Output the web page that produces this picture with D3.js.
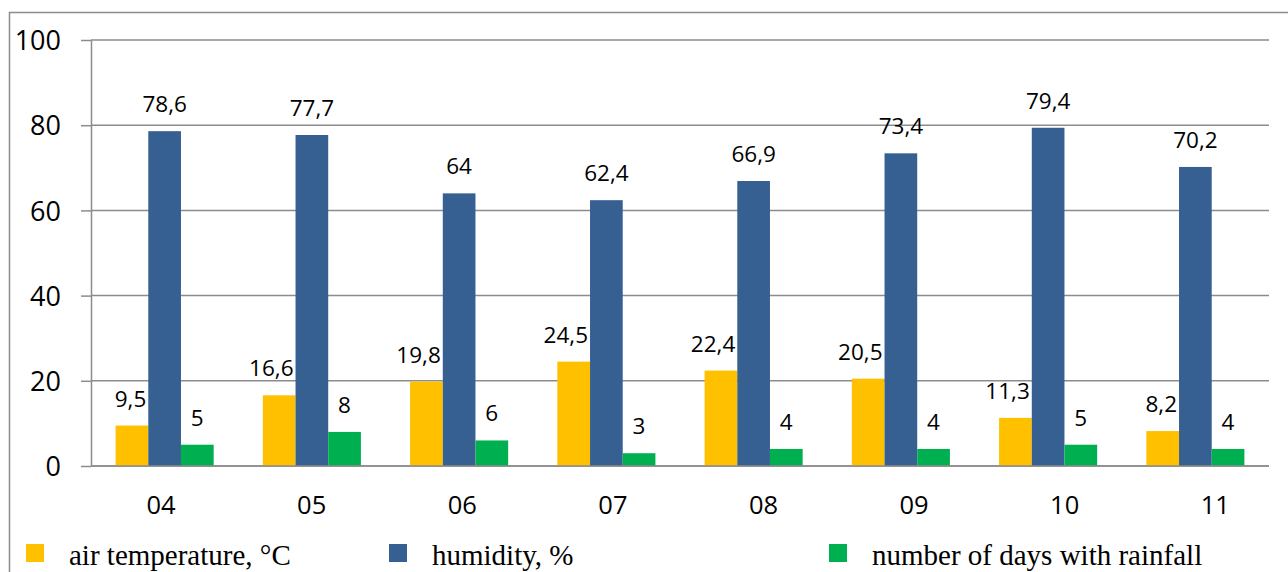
<!DOCTYPE html>
<html>
<head>
<meta charset="utf-8">
<script src="https://cdn.jsdelivr.net/npm/d3@7"></script>
<style>
  html, body { margin: 0; padding: 0; background: #ffffff; }
  svg { display: block; }
</style>
</head>
<body>
<svg id="chart" width="1288" height="572"></svg>
<script>
// ---- data ----
const months = ["04", "05", "06", "07", "08", "09", "10", "11"];
const airTemperature = [9.5, 16.6, 19.8, 24.5, 22.4, 20.5, 11.3, 8.2];
const humidity = [78.6, 77.7, 64, 62.4, 66.9, 73.4, 79.4, 70.2];
const rainDays = [5, 8, 6, 3, 4, 4, 5, 4];
const seriesKeys = ["temp", "hum", "rain"];
const seriesNames = ["air temperature, \u00B0C", "humidity, %", "number of days with rainfall"];
const seriesColors = ["#FFC000", "#376092", "#00B050"];
const yTicks = [0, 20, 40, 60, 80, 100];

const seriesValues = { temp: airTemperature, hum: humidity, rain: rainDays };

// ---- layout ----
const W = 1288, H = 572;
const plotLeft = 91, plotRight = 1269, plotTop = 40, plotBottom = 466;
const gridColor = "#8c8c8c";
const numFont = "'Open Sans', 'Noto Sans', sans-serif";
const legendFont = "'Liberation Serif', 'Times New Roman', serif";

const svg = d3.select("#chart");
svg.append("rect").attr("x", 0).attr("y", 0).attr("width", W).attr("height", H).attr("fill", "#fff");

// outer chart border (cut off at right and bottom)
svg.append("rect")
  .attr("x", 9.5).attr("y", 12.5)
  .attr("width", 1400).attr("height", 700)
  .attr("fill", "none").attr("stroke", gridColor).attr("stroke-width", 1.5);

const y = d3.scaleLinear().domain([0, 100]).range([plotBottom, plotTop]);
const x0 = d3.scaleBand().domain(months).range([plotLeft, plotRight])
  .paddingInner(0.334).paddingOuter(0.167);
const x1 = d3.scaleBand().domain(seriesKeys).range([0, x0.bandwidth()]);
const labelX = d3.scalePoint().domain(months).range([160.6, 1214.8]);

// gridlines
svg.append("g").selectAll("line").data(yTicks).join("line")
  .attr("x1", plotLeft).attr("x2", plotRight)
  .attr("y1", d => y(d)).attr("y2", d => y(d))
  .attr("stroke", gridColor).attr("stroke-width", 1.5);

// y axis
const yAxis = svg.append("g")
  .attr("transform", `translate(${plotLeft},0)`)
  .call(d3.axisLeft(y).tickValues(yTicks).tickSize(10).tickSizeOuter(0).tickPadding(20).tickFormat(d3.format("d")));
yAxis.select(".domain").attr("stroke", gridColor).attr("stroke-width", 1.5);
yAxis.selectAll(".tick line").attr("stroke", gridColor).attr("stroke-width", 1.5);
yAxis.selectAll(".tick text")
  .attr("font-family", numFont).attr("font-size", 27).attr("fill", "#000")
  .attr("dy", null).attr("dominant-baseline", null)
  .attr("y", 9.6);

// bars
const groups = svg.append("g").selectAll("g").data(months).join("g")
  .attr("transform", d => `translate(${x0(d)},0)`);

groups.selectAll("rect")
  .data((m, i) => seriesKeys.map((k, j) => ({ key: k, value: seriesValues[k][i], color: seriesColors[j] })))
  .join("rect")
  .attr("x", d => x1(d.key))
  .attr("width", x1.bandwidth())
  .attr("y", d => y(d.value))
  .attr("height", d => y(0) - y(d.value))
  .attr("fill", d => d.color);

// value labels
const fmt = v => String(v).replace(".", ",");
groups.selectAll("text.val")
  .data((m, i) => seriesKeys.map(k => ({ key: k, value: seriesValues[k][i] })))
  .join("text")
  .attr("class", "val")
  .attr("x", d => d.key === "temp" ? x1(d.key) + x1.bandwidth() - 2 : x1(d.key) + x1.bandwidth() / 2)
  .attr("y", d => y(d.value) - 19)
  .attr("text-anchor", d => d.key === "temp" ? "end" : "middle")
  .attr("font-family", numFont).attr("font-size", 22.5).attr("fill", "#000")
  .text(d => fmt(d.value));

// x-axis line (baseline)
svg.append("line")
  .attr("x1", plotLeft).attr("x2", plotRight)
  .attr("y1", y(0)).attr("y2", y(0))
  .attr("stroke", gridColor).attr("stroke-width", 1.5);

// category labels
const xAxis = svg.append("g")
  .attr("transform", `translate(0,${plotBottom})`)
  .call(d3.axisBottom(labelX).tickSize(0).tickSizeOuter(0));
xAxis.select(".domain").remove();
xAxis.selectAll(".tick text")
  .attr("font-family", numFont).attr("font-size", 25.5).attr("fill", "#000")
  .attr("dy", null).attr("y", 48);

// legend
const legendX = [26, 389, 829];
const legend = svg.append("g").selectAll("g").data(seriesNames).join("g")
  .attr("transform", (d, i) => `translate(${legendX[i]},0)`);
legend.append("rect")
  .attr("x", 0).attr("y", 544).attr("width", 18).attr("height", 18)
  .attr("fill", (d, i) => seriesColors[i]);
legend.append("text")
  .attr("x", 43).attr("y", 565)
  .attr("font-family", legendFont).attr("font-size", 29).attr("fill", "#000")
  .text(d => d);
</script>
</body>
</html>
